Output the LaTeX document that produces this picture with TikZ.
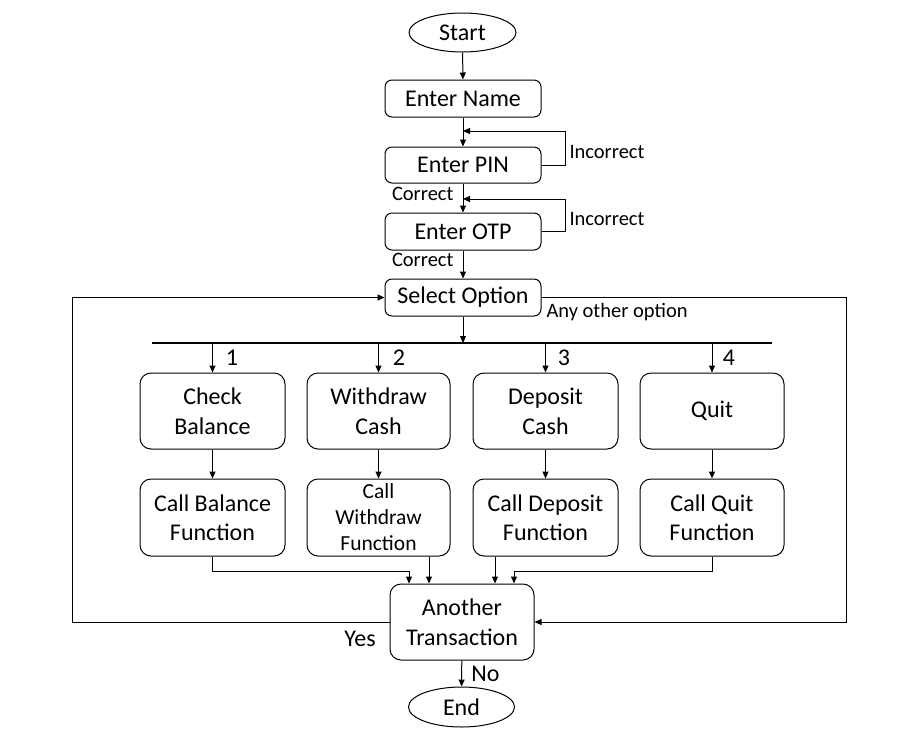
\documentclass[tikz,border=0pt]{standalone}
\usepackage{fontspec}
\setmainfont{Carlito}
\usetikzlibrary{arrows.meta,shapes.geometric}
\begin{document}
\begin{tikzpicture}[x=1pt,y=-1pt,line width=1pt,
  big/.style={font=\fontsize{24}{30}\selectfont},
  small/.style={font=\fontsize{20.5}{24}\selectfont},
  box/.style={draw,rounded corners=7pt,inner sep=0pt,align=center,big},
  bigbox/.style={draw,rounded corners=11pt,inner sep=0pt,align=center,big},
  term/.style={draw,ellipse,inner sep=0pt,big},
  arr/.style={-{Triangle[length=7pt,width=6pt]}},
  lbl/.style={inner sep=0pt}]
\useasboundingbox (0,0) rectangle (923,737);
% terminals
\node[term,minimum width=107pt,minimum height=39pt] (start) at (462.5,32.5) {Start};
\node[term,minimum width=106pt,minimum height=40pt] (end) at (461.5,707) {End};
% top column
\node[box,minimum width=156pt,minimum height=37pt] (name) at (463,98.5) {Enter Name};
\node[box,minimum width=156pt,minimum height=36pt] (pin) at (463,165) {Enter PIN};
\node[box,minimum width=156pt,minimum height=37pt] (otp) at (463,231.5) {Enter OTP};
\node[box,minimum width=156pt,minimum height=37pt] (sel) at (463,297.5) {Select Option};
% options
\node[bigbox,minimum width=145pt,minimum height=76pt] (cb) at (212.5,411) {Check\\Balance};
\node[bigbox,minimum width=143pt,minimum height=76pt] (wc) at (378.5,411) {Withdraw\\Cash};
\node[bigbox,minimum width=145pt,minimum height=76pt] (dc) at (545.5,411) {Deposit\\Cash};
\node[bigbox,minimum width=144pt,minimum height=76pt] (qt) at (712,411) {Quit};
\node[bigbox,minimum width=145pt,minimum height=77pt,font=\fontsize{24}{29}\selectfont] (fb) at (212.5,517.5) {Call Balance\\Function};
\node[bigbox,minimum width=143pt,minimum height=77pt,font=\fontsize{21.5}{26}\selectfont] (fw) at (378.5,517.5) {Call\\Withdraw\\Function};
\node[bigbox,minimum width=145pt,minimum height=77pt,font=\fontsize{24}{29}\selectfont] (fd) at (545.5,517.5) {Call Deposit\\Function};
\node[bigbox,minimum width=144pt,minimum height=77pt,font=\fontsize{24}{29}\selectfont] (fq) at (712,517.5) {Call Quit\\Function};
\node[bigbox,minimum width=144pt,minimum height=76pt] (at) at (462,622) {Another\\Transaction};
% coordinates
\coordinate (lp1) at (463,131);
\coordinate (lp2) at (463,199);
\coordinate (barL) at (152,343);
\coordinate (barR) at (772,343);
\coordinate (bm) at (463,343);
\coordinate (b1) at (212.5,343);
\coordinate (b2) at (378.5,343);
\coordinate (b3) at (545.5,343);
\coordinate (b4) at (712,343);
\coordinate (rt) at (846,297.5);
\coordinate (lt) at (72,622);
\coordinate (j1) at (409,571);
\coordinate (j2) at (429,571);
\coordinate (j3) at (495,571);
\coordinate (j4) at (514,571);
% connectors top
\draw[arr] (start) -- (name);
\draw[arr] (name) -- (pin);
\draw[arr] (pin) -- (otp);
\draw[arr] (otp) -- (sel);
\draw[arr] (pin.east) -- ++(24,0) |- (lp1);
\draw[arr] (otp.east) -- ++(24,0) |- (lp2);
\node[lbl,small,anchor=west] (inc1) at (569,152) {Incorrect};
\node[lbl,small,anchor=west] (inc2) at (569,219) {Incorrect};
\node[lbl,small,anchor=east] (cor1) at (454,194) {Correct};
\node[lbl,small,anchor=east] (cor2) at (454,260) {Correct};
% bar and branches
\draw[line width=2.2pt] (barL) -- (barR);
\draw[arr] (sel) -- (bm);
\draw[arr] (b1) -- (cb);
\draw[arr] (b2) -- (wc);
\draw[arr] (b3) -- (dc);
\draw[arr] (b4) -- (qt);
\node[lbl,big] (n1) at (232,358) {1};
\node[lbl,big] (n2) at (399,358) {2};
\node[lbl,big] (n3) at (564,358) {3};
\node[lbl,big] (n4) at (729,358) {4};
\draw[arr] (cb) -- (fb);
\draw[arr] (wc) -- (fw);
\draw[arr] (dc) -- (fd);
\draw[arr] (qt) -- (fq);
% merge
\draw[arr] (fb.south) |- (j1) -- (j1 |- at.north);
\draw[arr] (fw.south -| j2) -- (at.north -| j2);
\draw[arr] (fd.south -| j3) -- (at.north -| j3);
\draw[arr] (fq.south) |- (j4) -- (j4 |- at.north);
% loops
\draw[arr] (sel.east) -- (rt) |- (at.east);
\draw[arr] (at.west) -- (lt) |- (sel.west);
\node[lbl,small,anchor=west] (other) at (546,312) {Any other option};
\node[lbl,big] (yes) at (360,639) {Yes};
\draw[arr] (at) -- (end);
\node[lbl,big] (no) at (485.5,674) {No};
\end{tikzpicture}
\end{document}
